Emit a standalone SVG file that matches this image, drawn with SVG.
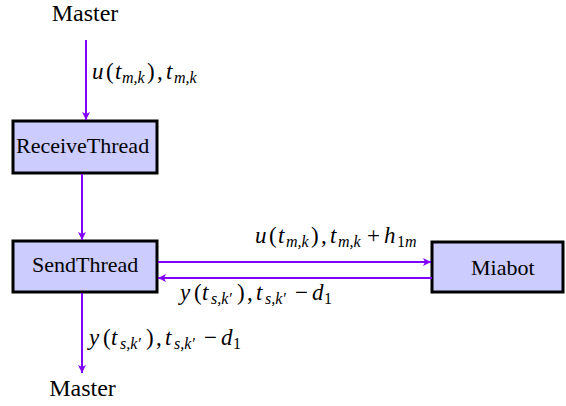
<svg xmlns="http://www.w3.org/2000/svg" width="566" height="406" viewBox="0 0 566 406">
<defs>
<marker id="ah" viewBox="0 0 10 10" refX="10" refY="5" markerWidth="8" markerHeight="8" orient="auto" markerUnits="userSpaceOnUse">
<path d="M0,0 L10,5 L0,10 L2.5,5 z" fill="#7F00FF"/>
</marker>
<style>
.box{fill:#CCCCFF;stroke:#000;stroke-width:3}
text{fill:#000}
.up{font-style:normal}
.e{stroke:#7F00FF;stroke-width:2;fill:none}
</style>
</defs>
<rect width="566" height="406" fill="#fff"/>
<g font-family="'Liberation Serif', 'Times New Roman', 'DejaVu Serif', serif" font-size="22">
<g id="master-top"><text font-size="24" x="85" y="20.5" text-anchor="middle">Master</text></g>
<g id="receive"><rect class="box" x="13" y="121" width="144" height="52"/><text x="16" y="153">ReceiveThread</text></g>
<g id="send"><rect class="box" x="13" y="241" width="144" height="51"/><text x="32" y="272">SendThread</text></g>
<g id="miabot"><rect class="box" x="432" y="242" width="131" height="50"/><text x="471" y="275">Miabot</text></g>
<g id="master-bottom"><text font-size="24" x="82.5" y="396" text-anchor="middle">Master</text></g>
<g id="connectors">
<line class="e" x1="86" y1="40" x2="86" y2="120" marker-end="url(#ah)"/>
<line class="e" x1="82" y1="174" x2="82" y2="240" marker-end="url(#ah)"/>
<line class="e" x1="158" y1="262" x2="431" y2="262" marker-end="url(#ah)"/>
<line class="e" x1="432" y1="278" x2="158" y2="278" marker-end="url(#ah)"/>
<line class="e" x1="82" y1="293" x2="82" y2="373" marker-end="url(#ah)"/>
</g>
<g id="labels" font-style="italic" font-size="23">
<text y="79"><tspan x="92">u</tspan><tspan class="up" x="106">(</tspan><tspan x="115">t</tspan><tspan font-size="16" x="122" y="83">m,k</tspan><tspan class="up" x="147" y="79">)</tspan><tspan class="up" x="157">,</tspan><tspan x="166">t</tspan><tspan font-size="16" x="174" y="83">m,k</tspan></text>
<text y="243"><tspan x="255">u</tspan><tspan class="up" x="269">(</tspan><tspan x="278">t</tspan><tspan font-size="16" x="286" y="247">m,k</tspan><tspan class="up" x="311" y="243">)</tspan><tspan class="up" x="321">,</tspan><tspan x="330">t</tspan><tspan font-size="16" x="338" y="247">m,k</tspan><tspan class="up" x="367" y="243">+</tspan><tspan x="384">h</tspan><tspan class="up" font-size="16" x="397" y="247">1</tspan><tspan font-size="16" x="405">m</tspan></text>
<text y="300"><tspan x="180">y</tspan><tspan class="up" x="194">(</tspan><tspan x="202">t</tspan><tspan font-size="16" x="211" y="304">s,k′</tspan><tspan class="up" x="237" y="300">)</tspan><tspan class="up" x="247">,</tspan><tspan x="256">t</tspan><tspan font-size="16" x="265" y="304">s,k′</tspan><tspan class="up" x="295" y="300">−</tspan><tspan x="312">d</tspan><tspan class="up" font-size="16" x="324" y="304">1</tspan></text>
<text y="345"><tspan x="89">y</tspan><tspan class="up" x="103">(</tspan><tspan x="111">t</tspan><tspan font-size="16" x="120" y="349">s,k′</tspan><tspan class="up" x="146" y="345">)</tspan><tspan class="up" x="156">,</tspan><tspan x="165">t</tspan><tspan font-size="16" x="174" y="349">s,k′</tspan><tspan class="up" x="204" y="345">−</tspan><tspan x="221">d</tspan><tspan class="up" font-size="16" x="233" y="349">1</tspan></text>
</g>
</g>
</svg>
